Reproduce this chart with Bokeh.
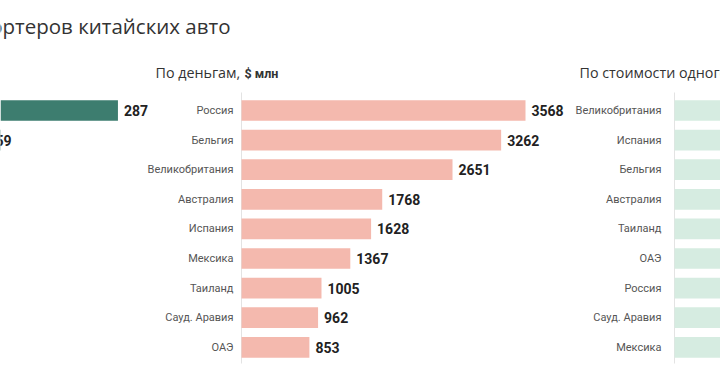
from bokeh.plotting import figure
from bokeh.models import Range1d, Label, ColumnDataSource
from bokeh.core.properties import value
from bokeh.embed import file_html
from bokeh.resources import INLINE

# ---- data ----
title_text = "Топ импортеров китайских авто"

count_title = "По количеству, "
count_unit = "тыс. шт"
count_cats = ["Россия", "Мексика"]
count_vals = [287, 159]

money_title = "По деньгам,"
money_unit = "$ млн"
money_cats = ["Россия", "Бельгия", "Великобритания", "Австралия", "Испания",
              "Мексика", "Таиланд", "Сауд. Аравия", "ОАЭ"]
money_vals = [3568, 3262, 2651, 1768, 1628, 1367, 1005, 962, 853]

price_title = "По стоимости одного авто,"
price_unit = "$ тыс."
price_cats = ["Великобритания", "Испания", "Бельгия", "Австралия", "Таиланд",
              "ОАЭ", "Россия", "Сауд. Аравия", "Мексика"]
price_vals = [37.9, 33.6, 29.7, 27.9, 22.9, 17.9, 12.4, 12.0, 8.6]

# ---- layout ----
W, H = 720, 380
ROW0, ROWH = 110, 29.6
TITLE_FONT = "Open Sans"
LABEL_FONT = value("Roboto")


def prange(axis_px, px_per_unit):
    return Range1d(start=-axis_px / px_per_unit, end=(W - axis_px) / px_per_unit)


def row_y(px):
    return (px - ROW0) / ROWH


p = figure(width=W, height=H, x_range=Range1d(0, W),
           y_range=Range1d(start=row_y(H), end=row_y(0)),
           output_backend="svg", toolbar_location=None, min_border=0,
           x_axis_location=None, y_axis_location=None)
p.grid.visible = False
p.outline_line_color = None
p.background_fill_color = "white"
p.border_fill_color = "white"

p.extra_x_ranges = {
    "cnt": prange(-188.5, 1.066),
    "usd": prange(241, (525 - 241) / 3568),
    "price": prange(674, 7.49),
}

panels = [
    ("cnt", count_cats, count_vals, "#3d7d6f", -8),
    ("usd", money_cats, money_vals, "#f4b9ae", -8),
    ("price", price_cats, price_vals, "#d6ece1", -13),
]

for rname, cats, vals, color, cat_off in panels:
    src = ColumnDataSource(dict(y=list(range(len(cats))), v=vals, cat=cats,
                                lab=[str(v) for v in vals]))
    p.segment(x0=0, y0=row_y(92), x1=0, y1=row_y(363), x_range_name=rname,
              line_color="#e3e3e3", line_width=1)
    p.hbar(y="y", left=0, right="v", height=0.7, source=src, x_range_name=rname,
           fill_color=color, line_color=None)
    p.text(x=0, y="y", text="cat", source=src, x_range_name=rname,
           x_offset=cat_off, text_align="right", text_baseline="middle",
           text_font=LABEL_FONT, text_font_size="11px", text_color="#555555")
    if rname != "price":
        p.text(x="v", y="y", text="lab", source=src, x_range_name=rname,
               x_offset=6, text_align="left", text_baseline="middle",
               text_font=LABEL_FONT, text_font_style="bold", text_font_size="14px",
               text_color="#222222")

# titles
p.add_layout(Label(x=230, x_units="screen", y=row_y(25), text=title_text,
                   text_align="right", text_baseline="middle", text_font=TITLE_FONT,
                   text_font_size="20.5px", text_color="#333333"))
p.add_layout(Label(x=155, x_units="screen", y=row_y(72), text=money_title,
                   text_align="left", text_baseline="middle", text_font=TITLE_FONT,
                   text_font_size="14.3px", text_color="#333333"))
p.add_layout(Label(x=244, x_units="screen", y=row_y(73), text=money_unit,
                   text_align="left", text_baseline="middle", text_font="Roboto",
                   text_font_style="bold", text_font_size="12.5px", text_color="#333333"))
p.add_layout(Label(x=579, x_units="screen", y=row_y(72), text=price_title + " " + price_unit,
                   text_align="left", text_baseline="middle", text_font=TITLE_FONT,
                   text_font_size="14.3px", text_color="#333333"))

open("out.html", "w").write(file_html(p, INLINE))
